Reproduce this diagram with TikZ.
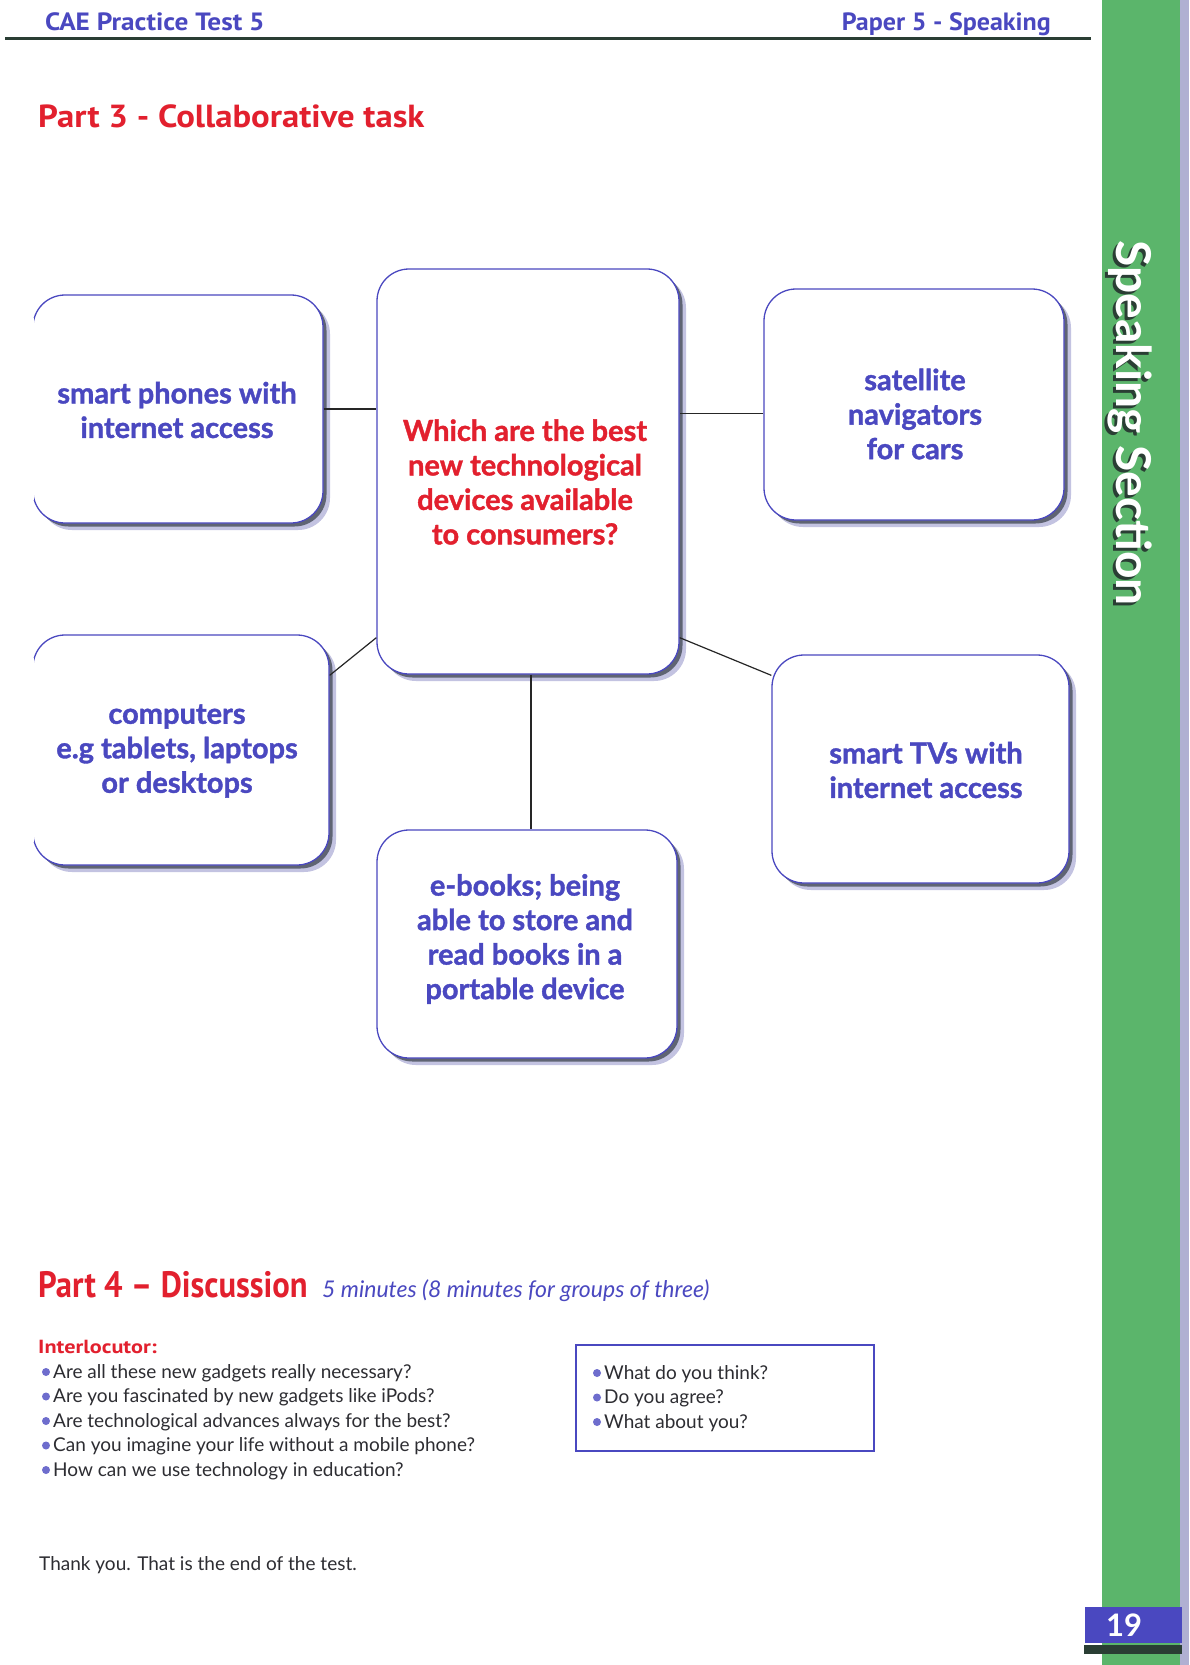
\documentclass[tikz,border=0pt]{standalone}
\usepackage{fontspec}
\setmainfont{Lato}
\newfontfamily\headfont{PT Sans}
\newfontfamily\boxfont[BoldFeatures={FakeBold=1.3}]{Lato}
\usetikzlibrary{calc}
\definecolor{pblue}{RGB}{74,72,192}
\definecolor{pred}{RGB}{226,32,46}
\definecolor{pgreen}{RGB}{91,181,107}
\definecolor{darkgr}{RGB}{42,62,52}
\definecolor{edgelav}{RGB}{176,176,210}
\definecolor{shdark}{RGB}{95,100,115}
\definecolor{shlav}{RGB}{195,195,225}
\definecolor{bodygray}{RGB}{45,45,50}
\tikzset{
  box/.style={draw=pblue, line width=1.3pt, fill=white, rounded corners=32pt, inner sep=0pt,
    preaction={fill=shlav, draw=none, transform canvas={shift={(7pt,-7pt)}}},
    preaction={fill=shdark, draw=none, transform canvas={shift={(3.5pt,-3.5pt)}}}},
  boxtext/.style={align=center, text=pblue, font=\boxfont\bfseries\fontsize{29}{34.5}\selectfont},
  conn/.style={draw=black!85, line width=1.2pt},
  bodytext/.style={anchor=base west, font=\fontsize{19}{22}\selectfont, text=bodygray, inner sep=0pt},
  bul/.style={circle, fill=pblue!80, inner sep=0pt, minimum size=8pt},
  heading/.style={anchor=base west, inner sep=0pt}
}
\begin{document}
\begin{tikzpicture}[x=1pt,y=-1pt]
\fill[white] (0,0) rectangle (1189,1665);
\useasboundingbox (0,0) rectangle (1189,1665);
% side bar
\fill[pgreen] (1102,0) rectangle (1180,1665);
\fill[edgelav] (1180,0) rectangle (1189,1665);
\node[rotate=-90, anchor=base, text=darkgr, font=\bfseries\fontsize{48}{52}\selectfont, inner sep=0pt] (sideshadow) at (1113,426) {Speaking Section};
\node[rotate=-90, anchor=base, text=white, font=\bfseries\fontsize{48}{52}\selectfont, inner sep=0pt] (side) at (1116,423) {Speaking Section};
% page number
\fill[pblue] (1085,1607) rectangle (1182,1643);
\fill[darkgr] (1084,1645) rectangle (1182,1654);
\node[text=white, font=\bfseries\fontsize{31}{34}\selectfont, inner sep=0pt] (pnum) at (1124,1625) {19};
% header
\node[heading, text=pblue, font=\headfont\bfseries\fontsize{25}{28}\selectfont] (hl) at (45,30) {\scalebox{1.09}[1]{CAE Practice Test 5}};
\node[heading, anchor=base east, text=pblue, font=\headfont\bfseries\fontsize{25}{28}\selectfont] (hr) at (1051,30) {\scalebox{1.04}[1]{Paper 5 - Speaking}};
\draw[darkgr, line width=3pt] (5,38) -- (1091,38);
\node[heading, text=pred, font=\headfont\bfseries\fontsize{31}{36}\selectfont] (p3) at (38,127) {\scalebox{1.12}[1.03]{Part 3 - Collaborative task}};
% boxes
\node[box, minimum width=290pt, minimum height=228pt] (b1) at (178,409) {};
\node[box, minimum width=302pt, minimum height=405pt] (b2) at (528,471.5) {};
\node[box, minimum width=300pt, minimum height=231pt] (b3) at (914,404.5) {};
\node[box, minimum width=296pt, minimum height=230pt] (b4) at (181,750) {};
\node[box, minimum width=297pt, minimum height=228pt] (b5) at (920.5,769) {};
\node[box, minimum width=300pt, minimum height=228pt] (b6) at (527,944) {};
% hide left edges of left boxes
\draw[white, line width=3pt] ([yshift=-24pt]b1.north west) -- ([yshift=24pt]b1.south west);
\draw[white, line width=3pt] ([yshift=-24pt]b4.north west) -- ([yshift=24pt]b4.south west);
% texts
\node[boxtext] (t1) at (177,410) {smart phones with\\internet access};
\node[boxtext, text=pred] (t2) at (525,482) {Which are the best\\new technological\\devices available\\to consumers?};
\node[boxtext] (t3) at (915,414) {satellite\\navigators\\for cars};
\node[boxtext] (t4) at (177,751) {computers\\e.g tablets, laptops\\or desktops};
\node[boxtext] (t5) at (926,770) {smart TVs with\\internet access};
\node[boxtext] (t6) at (525,939) {e-books; being\\able to store and\\read books in a\\portable device};
% connectors
\draw[conn] (b1.east) -- (b1.east -| b2.west);
\draw[conn] ([yshift=-9pt]b3.west) -- ([yshift=-9pt]b3.west -| b2.east);
\draw[conn] ([yshift=-41pt]b4.north east) -- ([yshift=37pt]b2.south west);
\draw[conn] ([yshift=37pt]b2.south east) -- ([yshift=-21pt]b5.north west);
\draw[conn] ([xshift=3pt]b2.south) -- ([xshift=3pt]b2.south |- b6.north);
% part 4
\node[heading, text=pred, font=\headfont\bfseries\fontsize{34}{38}\selectfont] (p4) at (38,1297) {\scalebox{0.96}[1.08]{Part 4 – Discussion}};
\node[heading, text=pblue, font=\itshape\fontsize{23}{26}\selectfont] (p4s) at (322,1297) {5 minutes (8 minutes for groups of three)};
\node[heading, text=pred, font=\headfont\bfseries\fontsize{19}{22}\selectfont] (il) at (38,1353) {\scalebox{1.17}[1]{Interlocutor:}};
\foreach \yy/\tx [count=\i] in {1378/Are all these new gadgets really necessary?,1402.5/Are you fascinated by new gadgets like iPods?,1427/Are technological advances always for the best?,1451.5/Can you imagine your life without a mobile phone?,1476/How can we use technology in education?}{
  \node[bul] (qb\i) at (46,\yy-6) {};
  \node[bodytext] (q\i) at (53,\yy) {\tx};
}
\node[draw=pblue, line width=1.5pt, minimum width=298pt, minimum height=106pt, inner sep=0pt] (qbox) at (725,1398) {};
\foreach \yy/\tx [count=\i] in {1379/What do you think?,1403.5/Do you agree?,1428/What about you?}{
  \node[bul] (rb\i) at (597,\yy-6) {};
  \node[bodytext] (r\i) at (604,\yy) {\tx};
}
\node[bodytext] (ty) at (39,1570) {Thank you. That is the end of the test.};
\end{tikzpicture}
\end{document}
